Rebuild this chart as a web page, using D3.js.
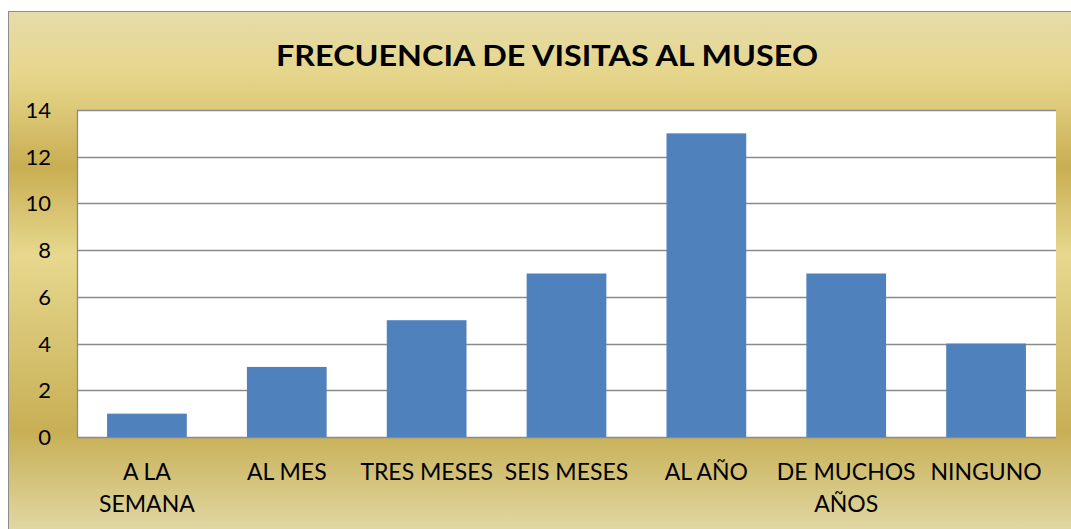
<!DOCTYPE html>
<html>
<head>
<meta charset="utf-8">
<script src="https://cdn.jsdelivr.net/npm/d3@7"></script>
<style>
  body { margin: 0; background: #fff; }
  text { font-family: Lato, "Open Sans", sans-serif; fill: #000; }
</style>
</head>
<body>
<div class="viz-container"></div>
<script>
// data
let categories = ["A LA SEMANA", "AL MES", "TRES MESES", "SEIS MESES", "AL AÑO", "DE MUCHOS AÑOS", "NINGUNO"];
let categoryLines = [["A LA", "SEMANA"], ["AL MES"], ["TRES MESES"], ["SEIS MESES"], ["AL AÑO"], ["DE MUCHOS", "AÑOS"], ["NINGUNO"]];
let visitas = [1, 3, 5, 7, 13, 7, 4];
let yTicks = [0, 2, 4, 6, 8, 10, 12, 14];
let titulo = "FRECUENCIA DE VISITAS AL MUSEO";

let W = 1071, H = 529;
let plot = { left: 77, right: 1056, top: 110, bottom: 437 };

let svg = d3.select(".viz-container")
  .append("svg")
    .attr("width", W)
    .attr("height", H);

// gold gradient background
let defs = svg.append("defs");
let grad = defs.append("linearGradient")
  .attr("id", "gold")
  .attr("x1", 0).attr("y1", 0).attr("x2", 0).attr("y2", 1);
let stops = [
  [0.00, "#e5dcaa"],
  [0.12, "#e6d68c"],
  [0.19, "#dcc877"],
  [0.30, "#c9ae52"],
  [0.47, "#e6d88e"],
  [0.81, "#c8af55"],
  [1.00, "#e0d7a2"]
];
stops.forEach(function(s){
  grad.append("stop").attr("offset", s[0]).attr("stop-color", s[1]);
});

svg.append("rect")
  .attr("x", 8.5).attr("y", 11.5)
  .attr("width", W - 8).attr("height", H - 11)
  .attr("fill", "url(#gold)")
  .attr("stroke", "#8c8c8c")
  .attr("stroke-width", 1);

// title
svg.append("text")
  .attr("x", 547)
  .attr("y", 66)
  .attr("text-anchor", "middle")
  .style("font-size", "29px")
  .style("font-weight", "bold")
  .attr("textLength", 542)
  .attr("lengthAdjust", "spacingAndGlyphs")
  .text(titulo);

// scales
let x = d3.scaleBand()
  .domain(categories)
  .range([plot.left, plot.right])
  .paddingInner(0.43)
  .paddingOuter(0.215);

let y = d3.scaleLinear()
  .domain([0, 14])
  .range([plot.bottom, plot.top]);

// plot area
svg.append("rect")
  .attr("x", plot.left).attr("y", plot.top)
  .attr("width", plot.right - plot.left)
  .attr("height", plot.bottom - plot.top)
  .attr("fill", "#ffffff");

// gridlines
svg.selectAll(".grid").data(yTicks).enter()
  .append("line")
    .attr("class", "grid")
    .attr("x1", plot.left)
    .attr("x2", plot.right)
    .attr("y1", d => Math.round(y(d)) + 0.5)
    .attr("y2", d => Math.round(y(d)) + 0.5)
    .attr("stroke", "#8a8a8a")
    .attr("stroke-width", 1.3);

// left axis line
svg.append("line")
  .attr("x1", plot.left + 0.5).attr("x2", plot.left + 0.5)
  .attr("y1", plot.top).attr("y2", plot.bottom)
  .attr("stroke", "#8a8a8a")
  .attr("stroke-width", 1.3);

// bars
svg.selectAll(".bar").data(visitas).enter()
  .append("rect")
    .attr("class", "bar")
    .attr("x", (d, i) => x(categories[i]))
    .attr("y", d => y(d))
    .attr("width", x.bandwidth())
    .attr("height", d => y(0) - y(d))
    .attr("fill", "#4f81bd");

// y labels
svg.selectAll(".ylab").data(yTicks).enter()
  .append("text")
    .attr("class", "ylab")
    .attr("x", 51)
    .attr("y", d => y(d) + 8)
    .attr("text-anchor", "end")
    .style("font-size", "22px")
    .text(d => d);

// x labels
let xl = svg.selectAll(".xlab").data(categoryLines).enter()
  .append("text")
    .attr("class", "xlab")
    .attr("text-anchor", "middle")
    .style("font-size", "23px");
xl.selectAll("tspan").data((d, i) => d.map(t => ({ t: t, c: categories[i] }))).enter()
  .append("tspan")
    .attr("x", d => x(d.c) + x.bandwidth() / 2)
    .attr("y", (d, j) => 480 + j * 32)
    .text(d => d.t);
</script>
</body>
</html>
